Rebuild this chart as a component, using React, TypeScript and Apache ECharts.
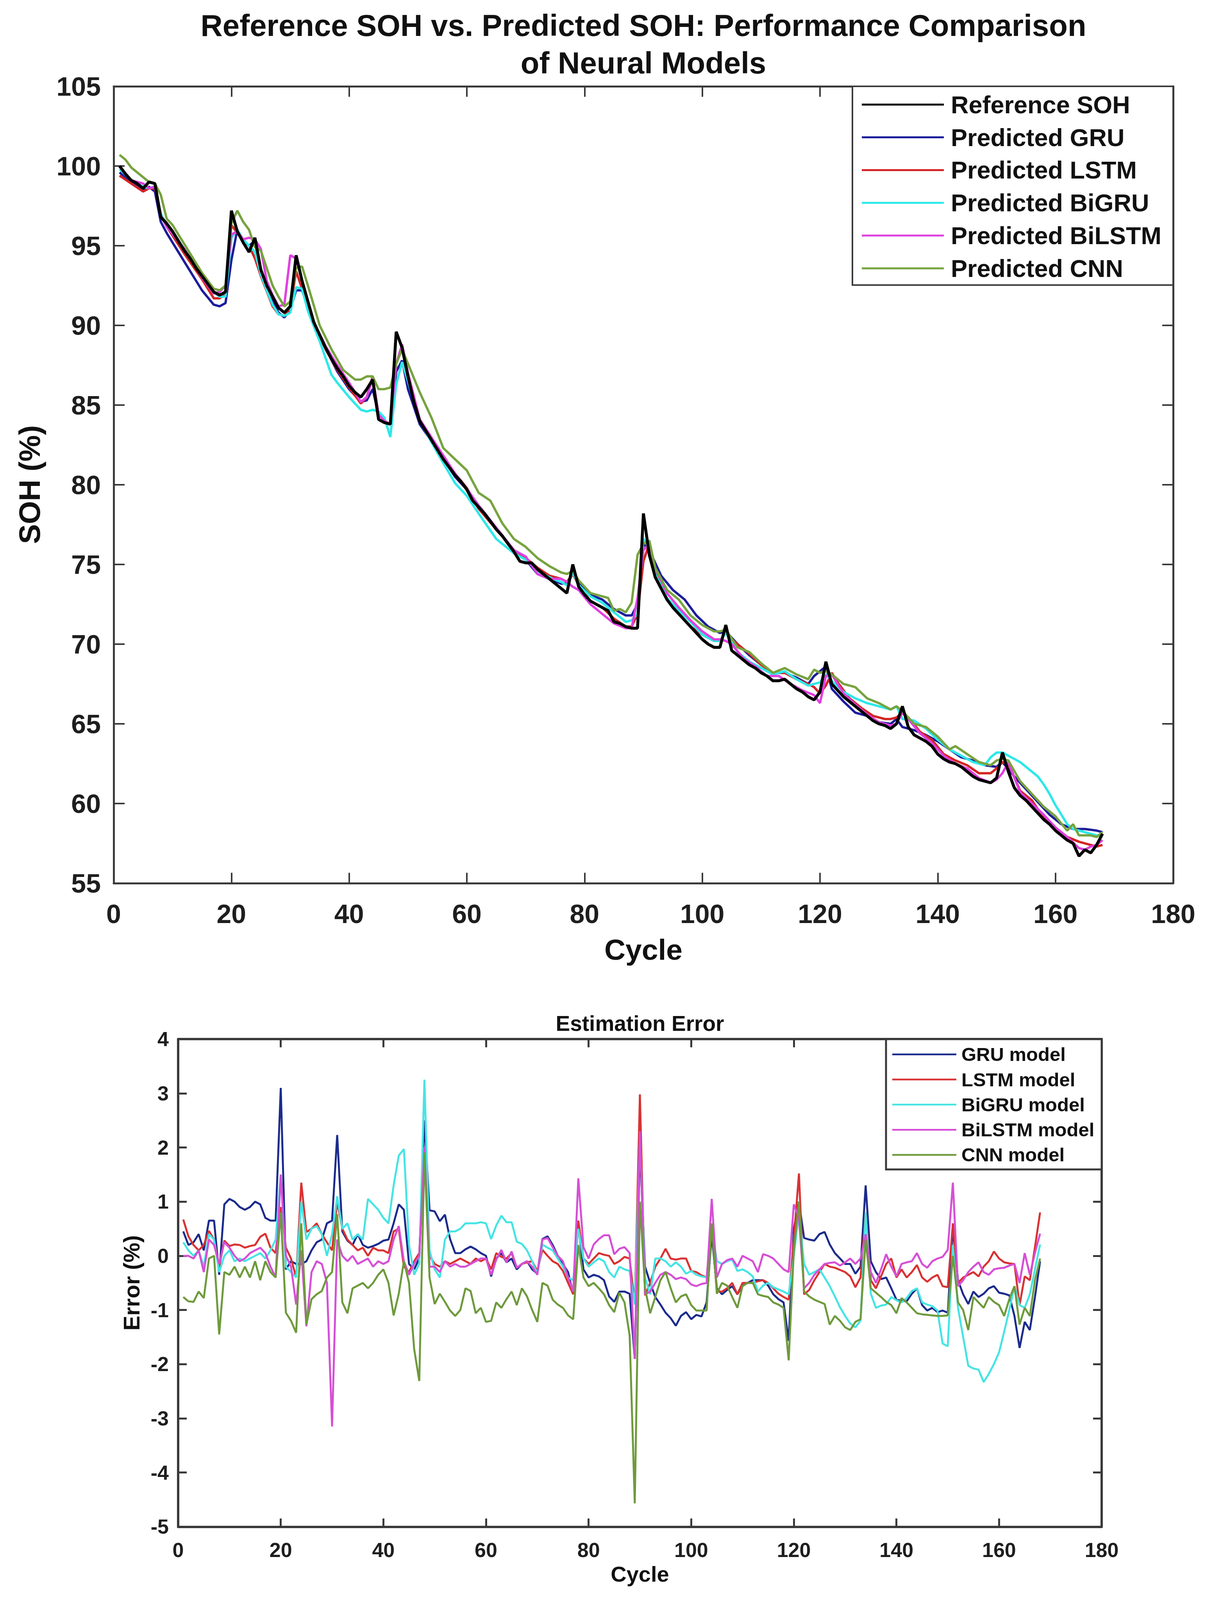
import React, { useEffect, useRef } from "react";
import * as echarts from "echarts";

// ---------- data ----------
const cycles = Array.from({ length: 168 }, (_, i) => i + 1);

const xTicksTop = { min: 0, max: 180, step: 20 };
const yTicksTop = { min: 55, max: 105, step: 5 };
const xTicksBottom = { min: 0, max: 180, step: 20 };
const yTicksBottom = { min: -5, max: 4, step: 1 };

const referenceSOH = [
  100.0, 99.5, 99.1, 98.9, 98.6, 99.0, 98.9, 96.8, 96.4, 95.9,
  95.3, 94.7, 94.2, 93.6, 93.1, 92.6, 92.1, 91.9, 92.1, 97.2,
  95.9, 95.2, 94.6, 95.5, 93.5, 92.5, 91.8, 91.1, 90.8, 91.2,
  94.4, 92.8, 91.5, 90.2, 89.4, 88.6, 87.9, 87.3, 86.8, 86.2,
  85.8, 85.5, 86.0, 86.6, 84.1, 83.9, 83.8, 89.6, 88.6, 86.8,
  85.2, 84.0, 83.4, 82.8, 82.2, 81.6, 81.1, 80.6, 80.2, 79.7,
  79.0, 78.6, 78.2, 77.7, 77.2, 76.8, 76.3, 75.8, 75.2, 75.1,
  75.1, 74.7, 74.4, 74.1, 73.8, 73.5, 73.2, 75.0, 73.6, 73.1,
  72.7, 72.5, 72.3, 72.1, 71.4, 71.3, 71.1, 71.0, 71.0, 78.2,
  75.6, 74.2, 73.5, 72.8, 72.3, 71.9, 71.5, 71.1, 70.7, 70.3,
  70.0, 69.8, 69.8, 71.2, 69.6, 69.3, 69.0, 68.7, 68.5, 68.2,
  68.0, 67.7, 67.7, 67.8, 67.5, 67.2, 67.0, 66.7, 66.5, 67.0,
  68.9, 67.5, 67.1, 66.7, 66.4, 66.1, 65.8, 65.5, 65.2, 65.0,
  64.9, 64.7, 65.0, 66.1, 64.8, 64.3, 64.1, 63.9, 63.6, 63.1,
  62.8, 62.6, 62.5, 62.3, 62.0, 61.7, 61.5, 61.4, 61.3, 61.6,
  63.2, 62.0, 61.0, 60.5, 60.2, 59.8, 59.4, 59.0, 58.7, 58.3,
  58.0, 57.7, 57.5, 56.7, 57.1, 56.9, 57.4, 58.1,
];

const predictedGRU = [
  [1, 99.6], [3, 99.0], [5, 98.5], [6, 98.7], [7, 98.4], [8, 96.5], [9, 95.8], [12, 94.0], [15, 92.2],
  [17, 91.3], [18, 91.2], [19, 91.4], [20, 94.1], [21, 96.0], [22, 95.3], [23, 95.0], [24, 95.3],
  [25, 93.3], [27, 91.5], [28, 90.8], [29, 90.5], [30, 91.0], [31, 92.2], [32, 92.2], [33, 91.2],
  [35, 89.3], [38, 87.1], [40, 86.0], [42, 85.2], [43, 85.3], [44, 86.0], [45, 84.4], [46, 84.0],
  [47, 83.8], [48, 87.1], [49, 87.8], [50, 86.0], [52, 83.8], [55, 82.2], [58, 80.5], [60, 79.7],
  [62, 78.7], [65, 77.3], [68, 75.9], [70, 75.3], [72, 74.4], [74, 74.1], [76, 73.8], [77, 73.8],
  [78, 74.4], [79, 73.9], [81, 73.1], [83, 72.8], [85, 72.2], [87, 71.8], [88, 71.8], [89, 72.5],
  [90, 76.3], [91, 75.9], [93, 74.3], [95, 73.4], [97, 72.8], [99, 71.8], [101, 71.1], [103, 70.7],
  [104, 70.8], [106, 70.0], [108, 69.3], [110, 68.7], [112, 68.2], [114, 68.2], [116, 67.9],
  [118, 67.5], [119, 68.0], [120, 68.3], [121, 68.6], [122, 67.2], [124, 66.4], [126, 65.7],
  [128, 65.5], [130, 65.1], [132, 65.0], [133, 65.3], [134, 64.8], [136, 64.6], [138, 64.3],
  [140, 63.9], [142, 63.4], [144, 62.9], [146, 62.7], [148, 62.4], [150, 62.3], [151, 62.6],
  [153, 61.7], [155, 60.9], [157, 60.1], [159, 59.3], [161, 58.7], [163, 58.4], [165, 58.4],
  [167, 58.3], [168, 58.2],
];

const predictedLSTM = [
  [1, 99.4], [3, 98.9], [5, 98.4], [6, 98.6], [7, 98.6], [8, 97.0], [9, 96.2], [12, 94.5], [15, 92.9],
  [17, 91.7], [18, 91.7], [19, 92.0], [20, 96.3], [21, 95.8], [22, 95.3], [23, 95.0], [24, 94.2],
  [25, 93.1], [27, 91.2], [28, 90.7], [29, 90.6], [30, 91.1], [31, 93.4], [32, 92.3], [34, 90.0],
  [36, 88.5], [38, 87.2], [40, 86.1], [42, 85.1], [43, 85.5], [44, 86.8], [45, 84.4], [46, 84.0],
  [47, 83.8], [48, 87.6], [49, 88.6], [50, 87.0], [52, 84.1], [55, 82.3], [58, 80.7], [60, 79.8],
  [62, 78.5], [65, 77.2], [68, 75.9], [70, 75.4], [72, 74.8], [74, 74.3], [76, 74.1], [77, 73.9],
  [78, 74.4], [79, 73.7], [81, 72.7], [83, 72.3], [85, 71.6], [87, 71.1], [88, 71.1], [89, 71.9],
  [90, 75.2], [91, 76.3], [92, 74.7], [94, 72.8], [96, 71.9], [98, 71.1], [100, 70.6], [102, 70.2],
  [103, 70.2], [104, 70.7], [105, 70.3], [106, 70.0], [108, 69.4], [110, 68.7], [112, 68.2],
  [114, 68.2], [116, 67.8], [118, 67.5], [119, 67.3], [120, 66.9], [121, 67.4], [122, 68.2],
  [123, 67.6], [125, 66.6], [127, 66.0], [129, 65.5], [131, 65.3], [132, 65.3], [133, 65.4],
  [134, 65.7], [135, 65.4], [137, 64.5], [139, 64.0], [141, 63.1], [143, 62.7], [145, 62.4],
  [147, 61.9], [149, 61.9], [150, 62.2], [151, 62.6], [152, 62.5], [154, 60.8], [156, 60.2],
  [158, 59.1], [160, 58.4], [162, 57.9], [164, 57.6], [166, 57.4], [167, 57.3], [168, 57.4],
];

const predictedBiGRU = [
  [1, 99.8], [3, 99.1], [5, 98.7], [6, 98.6], [7, 98.7], [8, 97.0], [9, 96.3], [12, 94.8], [15, 93.1],
  [17, 92.1], [18, 91.8], [19, 91.8], [20, 95.5], [21, 96.0], [22, 95.4], [23, 95.0], [24, 94.6],
  [25, 93.2], [26, 92.2], [27, 91.3], [28, 90.7], [29, 90.6], [30, 90.8], [31, 92.4], [32, 92.3],
  [33, 90.9], [35, 89.0], [37, 86.9], [38, 86.4], [40, 85.5], [42, 84.7], [43, 84.6], [44, 84.7],
  [45, 84.6], [46, 84.2], [47, 83.0], [48, 86.3], [49, 87.7], [50, 86.5], [52, 84.0], [55, 82.0],
  [58, 80.1], [60, 79.3], [62, 78.2], [65, 76.6], [68, 75.7], [70, 75.3], [72, 74.6], [74, 74.2],
  [76, 73.9], [77, 73.7], [78, 74.5], [79, 73.7], [81, 73.0], [83, 72.6], [85, 72.0], [87, 71.4],
  [88, 71.5], [89, 71.9], [90, 76.6], [91, 76.1], [92, 74.4], [94, 72.9], [96, 72.1], [98, 71.4],
  [100, 70.6], [102, 70.2], [103, 70.2], [104, 70.7], [106, 69.5], [108, 68.9], [110, 68.5],
  [112, 68.1], [114, 68.3], [116, 67.8], [118, 67.4], [119, 67.5], [120, 67.6], [121, 68.1],
  [122, 67.7], [124, 67.0], [126, 66.6], [128, 66.3], [130, 66.1], [132, 65.9], [133, 66.1],
  [134, 65.3], [136, 65.2], [138, 64.7], [140, 64.0], [142, 63.4], [144, 63.0], [146, 62.6],
  [148, 62.4], [149, 62.9], [150, 63.2], [151, 63.2], [152, 63.0], [154, 62.6], [156, 62.0],
  [157, 61.7], [158, 61.2], [159, 60.6], [160, 59.9], [161, 59.3], [162, 58.7], [163, 58.4],
  [165, 58.2], [167, 58.0], [168, 57.9],
];

const predictedBiLSTM = [
  [1, 100.0], [3, 99.1], [5, 98.9], [6, 98.6], [7, 98.7], [8, 96.9], [9, 96.2], [12, 94.8], [15, 93.0],
  [17, 92.0], [18, 92.1], [19, 92.5], [20, 95.7], [21, 95.9], [22, 95.4], [23, 95.5], [24, 95.4],
  [25, 94.8], [26, 92.8], [27, 91.9], [28, 91.2], [29, 91.3], [30, 94.4], [31, 94.2], [32, 92.8],
  [34, 90.2], [36, 88.7], [38, 87.5], [40, 86.4], [42, 85.2], [43, 85.5], [44, 86.7], [45, 84.4],
  [46, 84.0], [47, 83.8], [48, 87.6], [49, 88.8], [50, 87.0], [52, 84.1], [55, 82.4], [58, 80.7],
  [60, 79.75], [62, 78.7], [65, 77.3], [68, 75.9], [70, 75.5], [72, 74.4], [74, 74.1], [76, 74.1],
  [77, 73.9], [78, 73.6], [79, 73.4], [81, 72.5], [83, 71.9], [85, 71.3], [87, 71.0], [88, 71.0],
  [89, 72.9], [90, 75.9], [91, 76.3], [92, 74.8], [94, 73.2], [96, 72.3], [98, 71.5], [100, 70.8],
  [102, 70.3], [103, 70.3], [104, 70.2], [105, 70.0], [107, 69.1], [109, 68.6], [111, 68.0],
  [113, 68.0], [115, 67.5], [117, 67.1], [119, 66.8], [120, 66.3], [121, 68.0], [122, 68.1],
  [124, 66.9], [126, 66.2], [128, 65.6], [130, 65.1], [132, 64.9], [133, 65.0], [134, 65.7],
  [135, 65.3], [137, 64.4], [139, 63.8], [141, 63.0], [143, 62.5], [145, 62.2], [147, 61.6],
  [149, 61.3], [150, 61.5], [151, 61.9], [152, 62.6], [154, 60.7], [156, 60.0], [158, 59.3],
  [160, 58.5], [162, 57.9], [164, 57.2], [165, 57.1], [166, 57.3], [167, 57.4], [168, 57.7],
];

const predictedCNN = [
  [1, 100.7], [2, 100.4], [3, 99.9], [4, 99.6], [5, 99.3], [6, 99.0], [7, 98.9], [8, 98.2], [9, 96.7],
  [10, 96.3], [12, 95.1], [15, 93.3], [17, 92.3], [18, 92.2], [19, 92.5], [20, 96.4], [21, 97.2],
  [22, 96.5], [23, 96.0], [24, 94.9], [25, 94.7], [27, 92.5], [28, 91.8], [29, 91.2], [30, 91.5],
  [31, 93.6], [32, 93.7], [33, 92.5], [35, 90.0], [37, 88.5], [39, 87.2], [41, 86.6], [42, 86.6],
  [43, 86.8], [44, 86.8], [45, 86.0], [46, 86.0], [47, 86.1], [48, 87.6], [49, 88.5], [50, 87.6],
  [52, 85.8], [54, 84.2], [56, 82.3], [58, 81.6], [60, 80.9], [62, 79.5], [64, 79.0], [66, 77.6],
  [68, 76.6], [70, 76.1], [72, 75.4], [74, 74.9], [76, 74.5], [77, 74.4], [78, 74.6], [79, 74.0],
  [81, 73.2], [83, 73.0], [84, 72.9], [85, 72.1], [86, 72.2], [87, 72.0], [88, 72.6], [89, 75.6],
  [90, 76.3], [91, 76.5], [92, 74.8], [94, 73.4], [96, 72.8], [98, 71.8], [100, 71.2], [102, 70.8],
  [103, 70.8], [104, 70.9], [106, 69.8], [108, 69.5], [110, 68.8], [112, 68.2], [114, 68.5],
  [116, 68.1], [118, 67.8], [119, 68.4], [120, 68.2], [121, 68.3], [122, 68.1], [124, 67.5],
  [126, 67.3], [128, 66.6], [130, 66.3], [132, 65.9], [133, 66.1], [134, 65.8], [136, 65.0],
  [138, 64.8], [140, 64.2], [142, 63.4], [143, 63.6], [145, 63.1], [147, 62.6], [149, 62.4],
  [150, 62.7], [151, 62.8], [152, 62.7], [154, 61.4], [156, 60.6], [158, 59.8], [160, 59.2],
  [162, 58.3], [163, 58.7], [164, 58.0], [166, 58.0], [167, 57.9], [168, 58.2],
];

const errGRU = [
  0.45, 0.2, 0.25, 0.4, 0.1, 0.65, 0.65, -0.35, 0.95, 1.05,
  1.0, 0.9, 0.85, 0.9, 1.0, 0.95, 0.7, 0.65, 0.65, 3.1,
  -0.25, -0.1, -0.15, -0.15, -0.1, 0.1, 0.25, 0.3, 0.6, 0.65,
  2.23, 0.45, 0.28, 0.2, 0.4, 0.2, 0.15, 0.18, 0.22, 0.28,
  0.3, 0.6, 0.95, 0.85, -0.15, -0.25, -0.05, 2.5, 0.84, 0.82,
  0.64, 0.76, 0.31, 0.05, 0.05, 0.12, 0.17, 0.12, 0.05, 0.0,
  -0.38, -0.05, 0.05, -0.12, -0.05, -0.25, -0.15, -0.1, -0.25, -0.33,
  0.31, 0.36, 0.2, 0.0, -0.15, -0.3, -0.71, 0.6, -0.25, -0.4,
  -0.35, -0.38, -0.45, -0.75, -0.85, -0.66, -0.66, -0.7, -1.9, 2.0,
  -0.2, -0.5, -0.76, -0.9, -1.05, -1.15, -1.29, -1.11, -1.04, -1.17,
  -1.09, -1.12, -0.86, 0.4, -0.6, -0.71, -0.63, -0.56, -0.71, -0.55,
  -0.5, -0.45, -0.45, -0.45, -0.55, -0.71, -0.8, -0.86, -1.57, 0.5,
  1.0, 0.33, 0.3, 0.28, 0.4, 0.44, 0.21, 0.05, -0.05, -0.15,
  -0.15, -0.33, -0.2, 1.3, -0.1, -0.3, -0.43, -0.4, -0.6, -0.81,
  -0.83, -0.84, -0.7, -0.6, -0.91, -1.01, -0.96, -1.04, -1.01, -1.05,
  0.5, -0.45, -0.71, -0.89, -0.66, -0.76, -0.7, -0.6, -0.56, -0.68,
  -0.7, -0.73, -1.11, -1.7, -1.22, -1.37, -0.76, -0.1,
];

const errLSTM = [
  0.67, 0.36, 0.2, 0.1, 0.2, 0.46, 0.3, -0.2, 0.28, 0.18,
  0.21, 0.2, 0.15, 0.18, 0.2, 0.35, 0.41, 0.15, 0.05, 0.9,
  0.15, -0.05, -0.4, 1.35, 0.44, 0.5, 0.6, 0.4, 0.25, 0.1,
  1.0, 0.5, 0.3, 0.2, 0.1, 0.15, 0.0, 0.15, 0.1, 0.1,
  0.05, 0.45, 0.5, -0.2, -0.3, -0.1, 0.05, 1.95, 0.0, -0.15,
  -0.2, -0.1, -0.15, -0.1, -0.05, -0.1, -0.15, -0.05, -0.1, -0.05,
  -0.25, 0.05, -0.02, -0.05, 0.05, -0.22, -0.15, -0.12, -0.1, -0.28,
  0.11, 0.0, -0.1, -0.15, -0.28, -0.5, -0.71, 0.65, -0.05, -0.15,
  -0.05, 0.05, 0.02, 0.0, -0.15, -0.1, -0.02, -0.05, -0.9, 2.98,
  -0.73, -0.5, -0.2, -0.05, 0.13, -0.05, -0.07, -0.05, -0.05, -0.28,
  -0.3, -0.36, -0.4, 0.55, -0.66, -0.66, -0.6, -0.5, -0.71, -0.5,
  -0.5, -0.5, -0.47, -0.45, -0.5, -0.6, -0.7, -0.76, -0.81, 0.3,
  1.52, -0.71, -0.63, -0.45, -0.3, -0.15, -0.2, -0.22, -0.26, -0.3,
  -0.38, -0.58, -0.4, 0.8, -0.45, -0.6, -0.38, -0.15, -0.05, -0.4,
  -0.25, -0.4, -0.3, -0.17, -0.4, -0.48, -0.4, -0.35, -0.56, -0.58,
  0.6, -0.5, -0.4, -0.35, -0.3, -0.38, -0.2, -0.1, 0.08, -0.05,
  -0.12, -0.14, -0.15, -0.91, -0.38, -0.45, 0.16, 0.8,
];

const errBiGRU = [
  0.25, 0.1, 0.0, 0.1, -0.2, 0.4, 0.3, -0.3, 0.0, 0.1,
  -0.1, -0.05, -0.1, -0.05, 0.0, 0.05, -0.05, 0.1, 0.3, 1.5,
  -0.2, -0.3, -0.4, 1.0, 0.3, 0.5, 0.55, 0.4, 0.0, 0.4,
  1.1, 0.5, 0.6, 0.3, 0.4, 0.3, 1.05, 0.95, 0.85, 0.7,
  0.6, 1.3, 1.85, 1.97, 0.2, -0.35, -0.15, 3.25, 0.1, -0.25,
  -0.4, 0.3, 0.45, 0.45, 0.5, 0.6, 0.6, 0.6, 0.62, 0.6,
  0.31, 0.56, 0.74, 0.62, 0.62, 0.26, 0.22, 0.1, -0.1, -0.33,
  0.21, 0.15, 0.1, -0.05, -0.2, -0.4, -0.45, 0.5, -0.05, -0.2,
  -0.12, -0.05, -0.1, -0.3, -0.4, -0.2, -0.25, -0.28, -0.9, 2.2,
  -0.4, -0.71, -0.05, -0.05, -0.1, -0.2, -0.12, -0.2, -0.33, -0.28,
  -0.35, -0.38, -0.4, 0.5, -0.1, -0.15, -0.1, -0.07, -0.28, -0.25,
  -0.3, -0.38, -0.66, -0.55, -0.5, -0.58, -0.62, -0.66, -0.71, 0.0,
  0.8, -0.15, -0.35, -0.3, -0.25, -0.4, -0.56, -0.75, -0.95, -1.11,
  -1.25, -1.32, -1.2, 0.8, -0.7, -0.96, -0.92, -0.9, -0.76, -0.82,
  -0.86, -0.78, -0.65, -0.6, -0.86, -0.9, -0.93, -1.01, -1.62, -1.67,
  0.2, -0.96, -1.5, -2.03, -2.08, -2.1, -2.33, -2.18, -2.0, -1.78,
  -1.4, -1.0, -0.56, -0.91, -0.96, -0.71, -0.25, 0.21,
];

const errBiLSTM = [
  0.0, 0.0, -0.05, 0.1, -0.3, 0.3, 0.2, -0.15, 0.25, 0.15,
  0.0, -0.1, -0.05, 0.05, 0.1, 0.15, 0.05, -0.2, -0.4, 1.5,
  0.0, -0.2, -0.9, 0.1, -1.3, -0.3, -0.1, -0.15, -0.5, -3.15,
  0.3, 0.0, -0.1, 0.0, -0.15, -0.1, -0.05, -0.2, -0.1, -0.15,
  -0.1, 0.3, 0.55, -0.1, -0.35, -0.15, 0.0, 2.0, -0.2, -0.2,
  -0.3, -0.1, -0.2, -0.15, -0.2, -0.2, -0.15, -0.1, -0.05, -0.05,
  -0.35, -0.07, 0.11, -0.12, 0.08, -0.22, -0.15, -0.1, -0.2, -0.35,
  0.3, 0.33, 0.16, 0.0, -0.1, -0.4, -0.66, 1.43, 0.16, -0.05,
  0.21, 0.31, 0.38, 0.38, 0.03, 0.13, 0.16, 0.05, -1.9, 2.3,
  -0.71, -0.66, -0.5, -0.35, -0.3, -0.35, -0.43, -0.4, -0.43, -0.53,
  -0.56, -0.52, -0.5, 1.05, -0.4, -0.15, -0.08, -0.05, -0.2, 0.0,
  -0.05, -0.1, -0.3, 0.03, 0.0, -0.05, -0.15, -0.25, -0.3, 0.95,
  0.7, -0.6, -0.5, -0.35, -0.25, -0.15, -0.13, -0.12, -0.18, -0.12,
  -0.05, -0.15, -0.05, 0.4, -0.3, -0.5, -0.25, 0.03, -0.2, -0.38,
  -0.15, -0.12, -0.1, 0.05, -0.15, -0.22, -0.1, -0.05, -0.02, 0.11,
  1.35, -0.56, -0.45, -0.3, -0.2, -0.12, -0.3, -0.35, -0.25, -0.23,
  -0.22, -0.18, -0.15, -0.5, 0.05, -0.35, 0.05, 0.41,
];

const errCNN = [
  -0.76, -0.84, -0.85, -0.66, -0.78, -0.05, 0.0, -1.45, -0.3, -0.35,
  -0.2, -0.4, -0.2, -0.4, -0.1, -0.45, -0.1, -0.3, -0.4, 0.8,
  -1.05, -1.2, -1.42, 0.6, -1.27, -0.8, -0.71, -0.65, -0.4, -0.3,
  0.77, -0.86, -1.06, -0.6, -0.55, -0.5, -0.6, -0.5, -0.35, -0.25,
  -0.5, -1.1, -0.7, -0.1, -0.5, -1.72, -2.31, 1.9, -0.4, -0.89,
  -0.7, -0.85, -1.01, -1.11, -1.0, -0.6, -0.65, -1.06, -0.96, -1.22,
  -1.2, -0.86, -0.96, -0.8, -0.66, -0.91, -0.6, -0.75, -1.0, -1.22,
  -0.5, -0.55, -0.81, -0.9, -0.96, -1.1, -1.17, 0.2, -0.4, -0.56,
  -0.5, -0.6, -0.71, -0.91, -1.04, -0.68, -0.86, -1.47, -4.57, 1.0,
  -0.6, -1.06, -0.76, -0.45, -0.3, -0.6, -0.86, -0.75, -0.71, -0.91,
  -1.01, -1.01, -1.01, 0.6, -0.7, -0.5, -0.55, -0.76, -0.96, -0.56,
  -0.5, -0.5, -0.71, -0.74, -0.76, -0.86, -0.9, -0.96, -1.93, 0.1,
  1.0, -0.66, -0.75, -0.81, -0.85, -0.89, -1.27, -1.11, -1.2, -1.32,
  -1.37, -1.22, -1.17, 0.3, -0.6, -0.68, -0.76, -0.85, -0.91, -1.06,
  -0.78, -0.86, -0.96, -1.06, -1.08, -1.09, -1.1, -1.11, -1.11, -1.1,
  0.0, -0.86, -1.0, -1.37, -0.76, -0.86, -0.96, -0.76, -0.85, -0.91,
  -1.11, -0.8, -0.56, -1.27, -0.96, -1.11, -0.45, -0.05,
];

const topNames = ["Reference SOH", "Predicted GRU", "Predicted LSTM", "Predicted BiGRU", "Predicted BiLSTM", "Predicted CNN"];
const bottomNames = ["GRU model", "LSTM model", "BiGRU model", "BiLSTM model", "CNN model"];
const topColors = ["#000000", "#1c1c9c", "#d42525", "#2ee8e8", "#e040e0", "#77a33f"];
const bottomColors = ["#1b2b8c", "#d93232", "#46e4e4", "#d64fd6", "#6e9a3c"];

// ---------- style ----------
const FONT = "'Liberation Sans', Arial, Helvetica, sans-serif";
const AXIS = "#3a3a3a";
const REF_W = 3105;
const REF_H = 4299;

export default function App() {
  const ref = useRef<HTMLDivElement>(null);
  const vw = typeof window !== "undefined" ? window.innerWidth || REF_W : REF_W;
  const vh = typeof window !== "undefined" ? window.innerHeight || REF_H : REF_H;
  const W = Math.min(vw, REF_W);
  const H = Math.min(vh, REF_H);

  useEffect(() => {
    const sx = W / REF_W;
    const sy = H / REF_H;
    const X = (v: number) => v * sx;
    const Y = (v: number) => v * sy;
    const F = (v: number) => v * sx;

    const chart = echarts.init(ref.current as HTMLDivElement, null, { renderer: "svg", width: W, height: H });
    const pair = (arr: number[]) => cycles.map((c, i) => [c, arr[i]]);

    const axisPair = (gridIndex: number, kind: "x" | "y", t: any, st: any) => {
      const common = {
        gridIndex,
        type: "value",
        min: t.min,
        max: t.max,
        interval: t.step,
        splitLine: { show: false },
        axisLine: { show: true, onZero: false, lineStyle: { color: AXIS, width: st.lw } },
        axisTick: {
          show: true,
          inside: true,
          length: kind === "x" ? Y(st.tick) : X(st.tick),
          lineStyle: { color: AXIS, width: st.lw - 1 },
        },
      };
      const label = {
        show: true,
        fontSize: F(st.fs),
        fontWeight: st.fw,
        fontFamily: FONT,
        color: "#1e1e1e",
        lineHeight: F(st.fs),
        margin: kind === "x" ? Y(st.xm) : X(st.ym),
      };
      if (kind === "x") {
        return [
          { ...common, position: "bottom", axisLabel: label },
          { ...common, position: "top", axisLabel: { show: false } },
        ];
      }
      return [
        { ...common, position: "left", axisLabel: label },
        { ...common, position: "right", axisLabel: { show: false } },
      ];
    };

    const topStyle = { lw: 5, tick: 28, fs: 68, fw: "bold", xm: 46, ym: 33 };
    const botStyle = { lw: 6, tick: 22, fs: 52, fw: "bold", xm: 35, ym: 24 };

    const topPred = [predictedGRU, predictedLSTM, predictedBiGRU, predictedBiLSTM, predictedCNN];
    const errs = [errGRU, errLSTM, errBiGRU, errBiLSTM, errCNN];

    const series: any[] = [];
    topPred.forEach((d, i) => {
      series.push({
        name: topNames[i + 1],
        type: "line",
        xAxisIndex: 0,
        yAxisIndex: 0,
        data: d,
        symbol: "none",
        silent: true,
        z: 2,
        itemStyle: { color: topColors[i + 1] },
        lineStyle: { color: topColors[i + 1], width: 6 },
      });
    });
    series.push({
      name: topNames[0],
      type: "line",
      xAxisIndex: 0,
      yAxisIndex: 0,
      data: pair(referenceSOH),
      symbol: "none",
      silent: true,
      z: 3,
      itemStyle: { color: topColors[0] },
      lineStyle: { color: topColors[0], width: 7.5 },
    });
    errs.forEach((d, i) => {
      series.push({
        name: bottomNames[i],
        type: "line",
        xAxisIndex: 2,
        yAxisIndex: 2,
        data: pair(d),
        symbol: "none",
        silent: true,
        z: 2,
        itemStyle: { color: bottomColors[i] },
        lineStyle: { color: bottomColors[i], width: 5 },
      });
    });

    const txt = (text: string, x: number, y: number, size: number, weight: string, rot = 0, align = "center") => ({
      type: "text",
      x: X(x),
      y: Y(y),
      rotation: rot,
      z: 10,
      style: {
        text,
        fontSize: F(size),
        fontWeight: weight,
        fontFamily: FONT,
        fill: "#111111",
        align,
        verticalAlign: "middle",
        textAlign: align,
        textVerticalAlign: "middle",
      },
    });
    const seg = (x1: number, x2: number, y: number, color: string, w: number) => ({
      type: "line",
      z: 10,
      shape: { x1: X(x1), y1: Y(y), x2: X(x2), y2: Y(y) },
      style: { stroke: color, lineWidth: w },
    });

    const legendTop: any[] = [];
    topNames.forEach((n, i) => {
      const y = 281 + 88 * i;
      legendTop.push(seg(2206, 2416, y, topColors[i], 5));
      legendTop.push(txt(n, 2434, y, 63, "bold", 0, "left"));
    });
    const legendBottom: any[] = [];
    bottomNames.forEach((n, i) => {
      const y = 2833 + 67.5 * i;
      legendBottom.push(seg(2284, 2448, y, bottomColors[i], 4.5));
      legendBottom.push(txt(n, 2461, y, 49, "bold", 0, "left"));
    });

    const option: any = {
      animation: false,
      backgroundColor: "#ffffff",
      grid: [
        { left: X(291), top: Y(232), width: X(2712), height: Y(2141), containLabel: false },
        { left: X(456), top: Y(2792), width: X(2364), height: Y(1310), containLabel: false },
      ],
      xAxis: [...axisPair(0, "x", xTicksTop, topStyle), ...axisPair(1, "x", xTicksBottom, botStyle)],
      yAxis: [...axisPair(0, "y", yTicksTop, topStyle), ...axisPair(1, "y", yTicksBottom, botStyle)],
      graphic: [
        {
          type: "rect",
          z: 5,
          shape: { x: X(2182), y: Y(232), width: X(821), height: Y(534) },
          style: { fill: "#ffffff", stroke: AXIS, lineWidth: 4 },
        },
        {
          type: "rect",
          z: 5,
          shape: { x: X(2268), y: Y(2792), width: X(552), height: Y(350) },
          style: { fill: "#ffffff", stroke: AXIS, lineWidth: 5 },
        },
        ...legendTop,
        ...legendBottom,
        txt("Reference SOH vs. Predicted SOH: Performance Comparison", 1647, 68, 78, "bold"),
        txt("of Neural Models", 1647, 169, 78, "bold"),
        txt("Cycle", 1647, 2552, 75, "bold"),
        txt("SOH (%)", 75, 1302, 76, "bold", Math.PI / 2),
        txt("Estimation Error", 1638, 2750, 55, "bold"),
        txt("Cycle", 1638, 4229, 56, "bold"),
        txt("Error (%)", 337, 3447, 57, "bold", Math.PI / 2),
      ],
      series,
    };

    chart.setOption(option);
    return () => chart.dispose();
  }, []);

  return (
    <div
      ref={ref}
      style={{ position: "absolute", left: 0, top: 0, width: W, height: H, background: "#ffffff", overflow: "hidden" }}
    />
  );
}
